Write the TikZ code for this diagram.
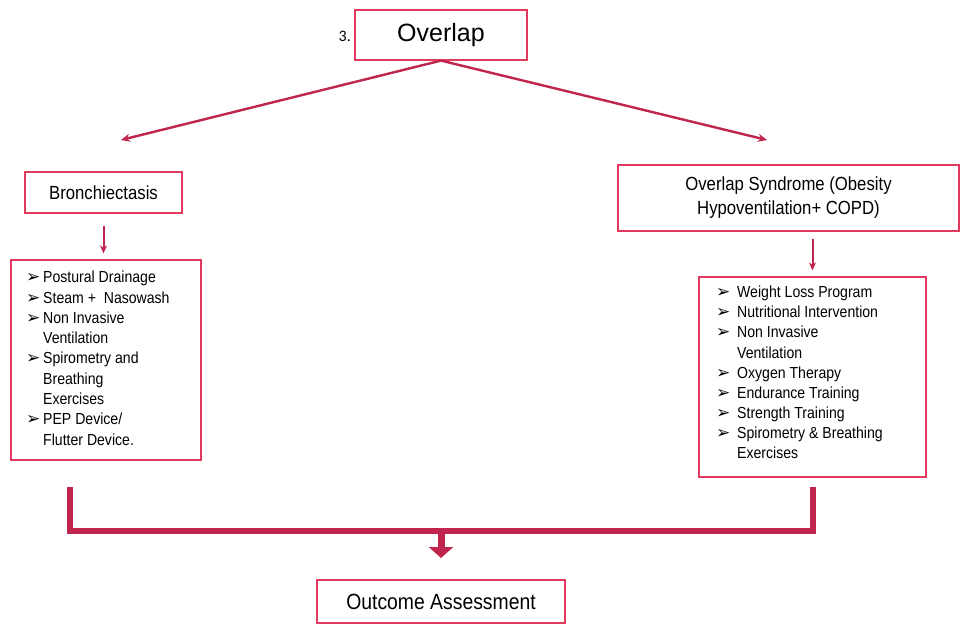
\documentclass[tikz,border=0pt]{standalone}
\usepackage{fontspec}
\setmainfont{Liberation Sans}
\newfontfamily\cond[FakeStretch=0.88]{Liberation Sans}
\newfontfamily\dejavu{DejaVu Sans}
\newfontfamily\calib{Carlito}
\usetikzlibrary{arrows.meta}
\definecolor{boxred}{HTML}{E23A5E}
\definecolor{arrred}{HTML}{C0254E}
\newcommand{\bul}{{\dejavu\fontsize{17}{17}\selectfont ➢}}
\newcommand{\itmA}[1]{\makebox[17pt][l]{\bul}#1}
\newcommand{\cntA}[1]{\hspace*{17pt}#1}
\newcommand{\itmB}[1]{\makebox[21pt][l]{\bul}#1}
\newcommand{\cntB}[1]{\hspace*{21pt}#1}
\tikzset{
  box/.style={draw=boxred, line width=1.2pt, fill=white, inner sep=0pt, align=center},
  thin arrow/.style={draw=arrred, line width=2.4pt, -{Stealth[length=9pt,width=8pt]}},
  bracket/.style={draw=arrred, line width=6pt, line join=miter},
}
\begin{document}
\begin{tikzpicture}[x=1pt,y=-1pt]
\useasboundingbox (0,0) rectangle (969,628);
% top
\node[box, minimum width=172pt, minimum height=50pt, font=\fontsize{25}{28}\selectfont] (title) at (441,35) {Overlap};
\node[anchor=east, inner sep=0pt, font=\calib\fontsize{16}{18}\selectfont] (num) at (351,36) {3.};
% level 2
\node[box, minimum width=157pt, minimum height=41pt, font=\cond\fontsize{19}{22}\selectfont] (b1) at (103.5,192.5) {Bronchiectasis};
\node[box, minimum width=341pt, minimum height=66pt, font=\cond\fontsize{19}{24}\selectfont] (b2) at (788.5,198) {Overlap Syndrome (Obesity\\Hypoventilation+ COPD)};
% lists
\node[box, minimum width=190pt, minimum height=200pt] (list1) at (106,360) {};
\node[anchor=north west, inner sep=0pt, align=left, font=\cond\fontsize{16}{20.3}\selectfont] (t1) at (26,271) {%
\itmA{Postural Drainage}\\
\itmA{Steam +\ \ Nasowash}\\
\itmA{Non Invasive}\\
\cntA{Ventilation}\\
\itmA{Spirometry and}\\
\cntA{Breathing}\\
\cntA{Exercises}\\
\itmA{PEP Device/}\\
\cntA{Flutter Device.}};
\node[box, minimum width=227pt, minimum height=200pt] (list2) at (812.5,377) {};
\node[anchor=north west, inner sep=0pt, align=left, font=\cond\fontsize{16}{20.1}\selectfont] (t2) at (716,286) {%
\itmB{Weight Loss Program}\\
\itmB{Nutritional Intervention}\\
\itmB{Non Invasive}\\
\cntB{Ventilation}\\
\itmB{Oxygen Therapy}\\
\itmB{Endurance Training}\\
\itmB{Strength Training}\\
\itmB{Spirometry \& Breathing}\\
\cntB{Exercises}};
% outcome
\node[box, minimum width=248pt, minimum height=43pt, font=\cond\fontsize{22}{26}\selectfont] (out) at (441,601.5) {Outcome Assessment};
% diagonal arrows
\coordinate (la) at (121,140);
\coordinate (ra) at (767,140);
\draw[thin arrow] (title.south) -- (la);
\draw[thin arrow] (title.south) -- (ra);
% small vertical arrows
\draw[thin arrow, line width=2pt, -{Stealth[length=8pt,width=7pt]}] ([yshift=-12pt]b1.south) -- ([yshift=6pt]list1.north -| b1.south);
\draw[thin arrow, line width=2pt, -{Stealth[length=8pt,width=7pt]}] ([yshift=-7pt]list2.north |- b2.south) -- ([yshift=6pt]list2.north);
% bracket
\coordinate (blt) at (70,487);
\coordinate (blb) at (70,530.5);
\coordinate (brb) at (813,530.5);
\coordinate (brt) at (813,487);
\draw[bracket] (blt) -- (blb) -- (brb) -- (brt);
\coordinate (mid) at (441,530.5);
\coordinate (dtip) at (441,558);
\draw[draw=arrred, fill=arrred, line width=7pt, -{Triangle[width=24pt,length=11pt]}] (mid) -- (dtip);
\end{tikzpicture}
\end{document}
